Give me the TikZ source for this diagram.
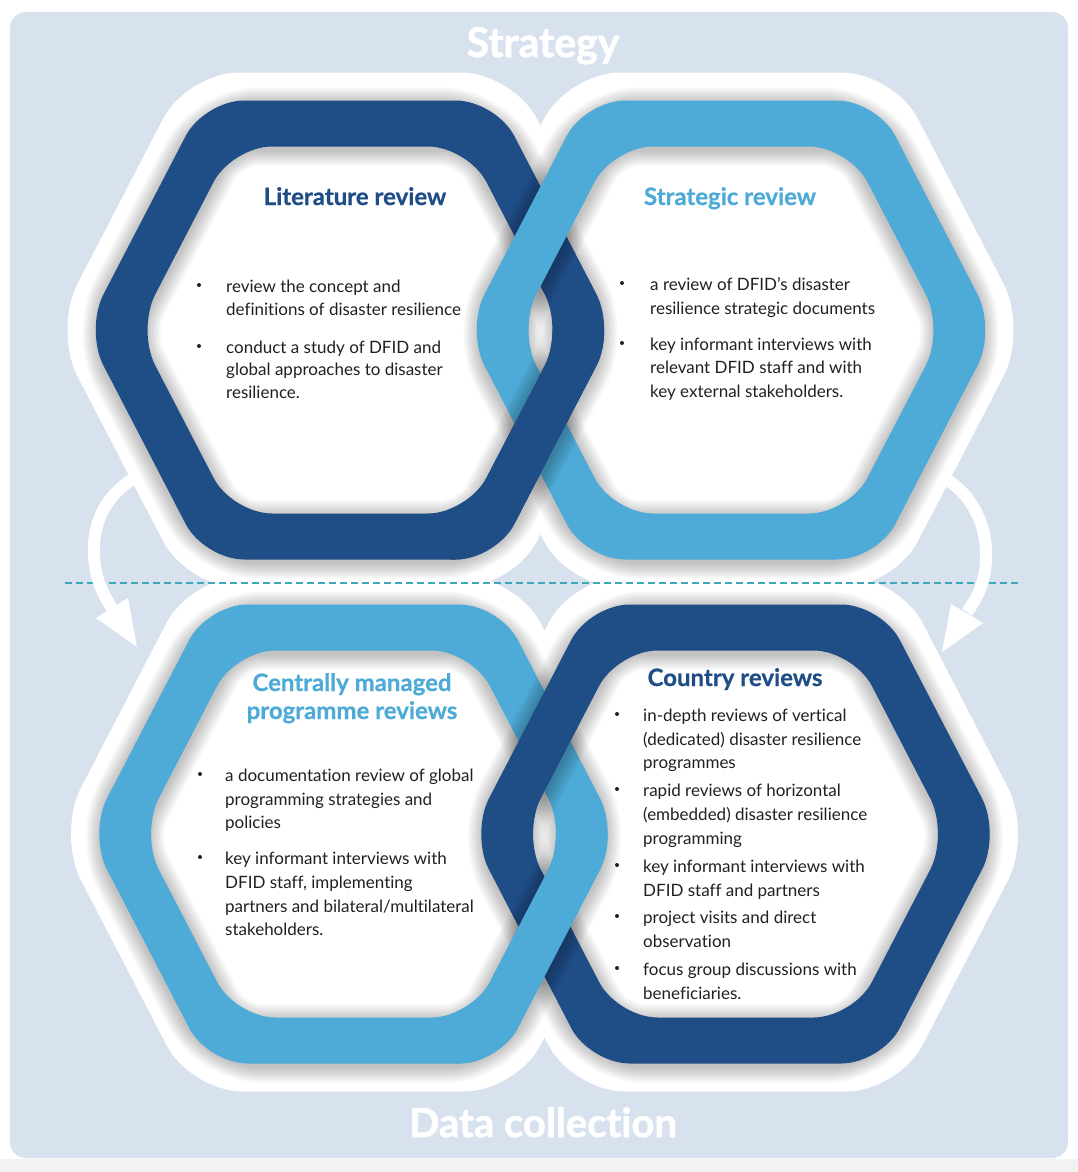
\documentclass[tikz,border=0pt]{standalone}
\usepackage{fontspec}
\setmainfont{Lato}[Ligatures=NoCommon]
\definecolor{dkblue}{RGB}{31,78,135}
\definecolor{ltblue}{RGB}{78,170,214}
\definecolor{bgblue}{RGB}{216,226,238}
\definecolor{dashc}{RGB}{62,168,185}
\definecolor{txtc}{RGB}{35,31,32}
\newcommand\ringshadow[2]{%
  \foreach \w in {50,54,...,78}{%
    \draw[black, opacity=0.03, line width=\w pt, rounded corners=40pt, yshift=-3pt, hex={#1}{#2}{239.1}{206.5}];}}
\newcommand\ringfill[3]{%
  \fill[#1, even odd rule, rounded corners=40pt, hex={#2}{#3}{265}{229.5}, hex={#2}{#3}{213.2}{183.5}];}
\newcommand\ringclip[2]{%
  \clip[rounded corners=40pt, hex={#1}{#2}{265}{229.5}, hex={#1}{#2}{213.2}{183.5}];}
\begin{document}
\begin{tikzpicture}[x=1pt,y=-1pt,
  hex/.style n args={4}{insert path={(#1,#2-#4) -- (#1+#3-0.519*#4,#2-#4) -- (#1+#3,#2) -- (#1+#3-0.519*#4,#2+#4) -- (#1-#3+0.519*#4,#2+#4) -- (#1-#3,#2) -- (#1-#3+0.519*#4,#2-#4) -- cycle}},
  halo/.style={white, rounded corners=52pt},
  title/.style={text=white, inner sep=0pt, anchor=base},
  head/.style={font=\fontsize{24}{28}\selectfont\bfseries\addfontfeature{FakeBold=0.6}, inner sep=0pt, anchor=base},
  txt/.style={text=txtc, font=\fontsize{17}{23}\selectfont, inner sep=0pt, anchor=base west},
  bul/.style={circle, fill=txtc, inner sep=0pt, minimum size=4pt},
  arrowline/.style={white, line width=12pt},
]
\useasboundingbox (0,0) rectangle (1078,1172);
% background
\fill[white] (0,0) rectangle (1078,1172);
\fill[black!5] (0,1159) rectangle (1078,1172);
\fill[bgblue, rounded corners=16pt] (10,12) rectangle (1068,1158);

% titles
\node[title, font=\fontsize{41}{46}\selectfont\bfseries\addfontfeature{FakeBold=1.5}] (strategy) at (543,57) {Strategy};
\node[title, font=\fontsize{40}{48}\selectfont\bfseries\addfontfeature{FakeBold=1.5}] (datacoll) at (543,1137) {Data collection};

% white halos
\fill[halo, hex={350}{330}{296.5}{257.5}];
\fill[halo, hex={731}{330}{296.5}{257.5}];
\fill[halo, hex={353.5}{834}{296.5}{257.5}];
\fill[halo, hex={735.5}{834}{296.5}{257.5}];

% dashed divider
\coordinate (dl) at (65,583);
\coordinate (dr) at (1022,583);
\draw[dashc, line width=2pt, dash pattern=on 7pt off 4pt] (dl) -- (dr);

% curved arrows
\coordinate (la0) at (140,475);
\coordinate (la1) at (112,489);
\coordinate (la2) at (95,515);
\coordinate (la3) at (94,545);
\coordinate (la4) at (93,572);
\coordinate (la5) at (100,590);
\coordinate (la6) at (112,608);
\draw[arrowline] (la0) .. controls (la1) and (la2) .. (la3) .. controls (la4) and (la5) .. (la6);
\coordinate (lt1) at (96,618);
\coordinate (lt2) at (128,598);
\coordinate (lt3) at (137,647);
\fill[white] (lt1) -- (lt2) -- (lt3) -- cycle;

\coordinate (ra0) at (942,477);
\coordinate (ra1) at (968,490);
\coordinate (ra2) at (985,520);
\coordinate (ra3) at (986,550);
\coordinate (ra4) at (987,578);
\coordinate (ra5) at (979,596);
\coordinate (ra6) at (967,612);
\draw[arrowline] (ra0) .. controls (ra1) and (ra2) .. (ra3) .. controls (ra4) and (ra5) .. (ra6);
\coordinate (rt1) at (951,604);
\coordinate (rt2) at (983,623);
\coordinate (rt3) at (942,652);
\fill[white] (rt1) -- (rt2) -- (rt3) -- cycle;

% top pair: dark (left), light (right)
\ringshadow{350}{330}
\ringfill{dkblue}{350}{330}
\ringshadow{731}{330}
\ringfill{ltblue}{731}{330}
\begin{scope}
  \clip (450,330) rectangle (635,600);
  \begin{scope}[even odd rule]
    \ringclip{731}{330}
    \ringshadow{350}{330}
  \end{scope}
  \ringfill{dkblue}{350}{330}
\end{scope}

% bottom pair: light (left), dark (right)
\ringshadow{353.5}{834}
\ringfill{ltblue}{353.5}{834}
\ringshadow{735.5}{834}
\ringfill{dkblue}{735.5}{834}
\begin{scope}
  \clip (455,834) rectangle (640,1100);
  \begin{scope}[even odd rule]
    \ringclip{735.5}{834}
    \ringshadow{353.5}{834}
  \end{scope}
  \ringfill{ltblue}{353.5}{834}
\end{scope}

% headings
\node[head, text=dkblue] (h1) at (355,205) {Literature review};
\node[head, text=ltblue] (h2) at (730,205) {Strategic review};
\node[head, text=ltblue] (h3a) at (352,691) {Centrally managed};
\node[head, text=ltblue] (h3b) at (352,719) {programme reviews};
\node[head, text=dkblue] (h4) at (735,686) {Country reviews};

% top-left text
\node[bul] (b11) at (199,285) {};
\node[txt] (t11) at (226,292) {review the concept and};
\node[txt] (t12) at (226,315) {definitions of disaster resilience};
\node[bul] (b12) at (199,346) {};
\node[txt] (t13) at (226,353) {conduct a study of DFID and};
\node[txt] (t14) at (226,375) {global approaches to disaster};
\node[txt] (t15) at (226,398) {resilience.};

% top-right text
\node[bul] (b21) at (622,283) {};
\node[txt] (t21) at (650,290) {a review of DFID’s disaster};
\node[txt] (t22) at (650,314) {resilience strategic documents};
\node[bul] (b22) at (622,343) {};
\node[txt] (t23) at (650,350) {key informant interviews with};
\node[txt] (t24) at (650,373) {relevant DFID staff and with};
\node[txt] (t25) at (650,397) {key external stakeholders.};

% bottom-left text
\node[bul] (b31) at (200,774) {};
\node[txt] (t31) at (225,781) {a documentation review of global};
\node[txt] (t32) at (225,805) {programming strategies and};
\node[txt] (t33) at (225,828) {policies};
\node[bul] (b32) at (200,857) {};
\node[txt] (t34) at (225,864) {key informant interviews with};
\node[txt] (t35) at (225,888) {DFID staff, implementing};
\node[txt] (t36) at (225,912) {partners and bilateral/multilateral};
\node[txt] (t37) at (225,935) {stakeholders.};

% bottom-right text
\node[bul] (b41) at (617,714) {};
\node[txt] (t41) at (643,721) {in-depth reviews of vertical};
\node[txt] (t42) at (643,745) {(dedicated) disaster resilience};
\node[txt] (t43) at (643,768) {programmes};
\node[bul] (b42) at (617,789) {};
\node[txt] (t44) at (643,796) {rapid reviews of horizontal};
\node[txt] (t45) at (643,820) {(embedded) disaster resilience};
\node[txt] (t46) at (643,844) {programming};
\node[bul] (b43) at (617,865) {};
\node[txt] (t47) at (643,872) {key informant interviews with};
\node[txt] (t48) at (643,896) {DFID staff and partners};
\node[bul] (b44) at (617,916) {};
\node[txt] (t49) at (643,923) {project visits and direct};
\node[txt] (t410) at (643,947) {observation};
\node[bul] (b45) at (617,968) {};
\node[txt] (t411) at (643,975) {focus group discussions with};
\node[txt] (t412) at (643,999) {beneficiaries.};
\end{tikzpicture}
\end{document}
